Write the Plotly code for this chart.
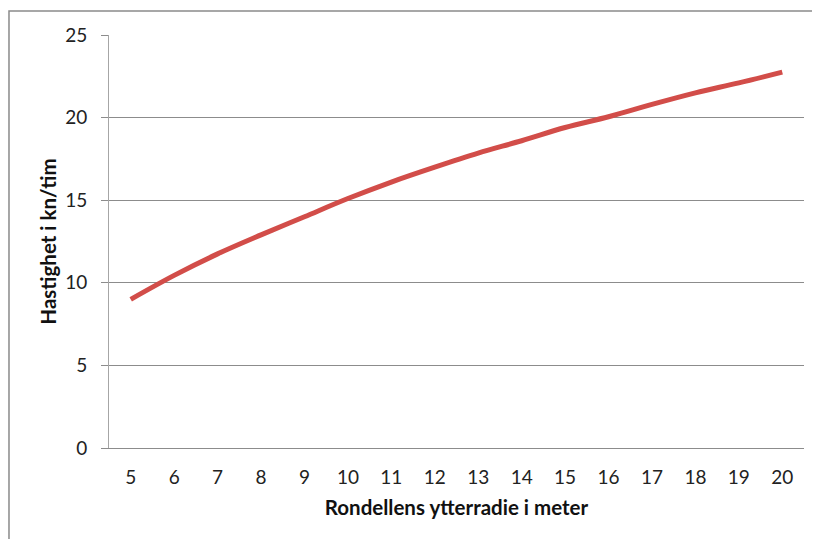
import plotly.graph_objects as go

# radius in meters (categories) and speed in km/h
radie = ["5", "6", "7", "8", "9", "10", "11", "12", "13", "14", "15", "16", "17", "18", "19", "20"]
hastighet = [9.0, 10.45, 11.75, 12.9, 14.0, 15.1, 16.1, 17.0, 17.85, 18.6, 19.4, 20.05, 20.8, 21.5, 22.1, 22.75]
y_ticks = [0, 5, 10, 15, 20, 25]

FONT = "Lato"
GRID = "#8c8c8c"

fig = go.Figure()
fig.add_trace(go.Scatter(
    x=radie,
    y=hastighet,
    mode="lines",
    line=dict(color="#D24D49", width=5, shape="spline", smoothing=1.0),
    showlegend=False,
))

# the page body adds an 8px offset, margins are chosen with that in mind
fig.update_layout(
    width=820,
    height=539,
    margin=dict(l=101, r=24, t=27, b=99),
    paper_bgcolor="white",
    plot_bgcolor="white",
    font=dict(family=FONT, size=19, color="#222222"),
    showlegend=False,
)

fig.update_xaxes(
    type="category",
    range=[-0.5, 15.5],
    automargin=False,
    showgrid=False,
    showline=True,
    linecolor=GRID,
    linewidth=1,
    ticks="",
    ticklabelstandoff=12,
    tickfont=dict(size=19, family=FONT),
    title=dict(text="<b>Rondellens ytterradie i meter</b>", font=dict(size=20.5, family=FONT, color="#111111"), standoff=13),
)

fig.update_yaxes(
    range=[0, 25],
    tickvals=y_ticks,
    automargin=False,
    showgrid=True,
    gridcolor=GRID,
    gridwidth=1,
    showline=True,
    linecolor="#a6a6a6",
    linewidth=1,
    ticks="outside",
    ticklen=7,
    tickcolor=GRID,
    ticklabelstandoff=10,
    zeroline=False,
    tickfont=dict(size=19, family=FONT),
    title=dict(text="<b>Hastighet i kn/tim</b>", font=dict(size=20.5, family=FONT, color="#111111"), standoff=2),
)

# outer chart frame (left and top edges are visible in the picture)
fig.add_shape(
    type="rect", xref="paper", yref="paper",
    x0=-0.1439, x1=1.05, y0=-0.25, y1=1.0581,
    line=dict(color="#8a8a8a", width=1.5),
    fillcolor="rgba(0,0,0,0)",
    layer="below",
)

fig.write_html("out.html")
